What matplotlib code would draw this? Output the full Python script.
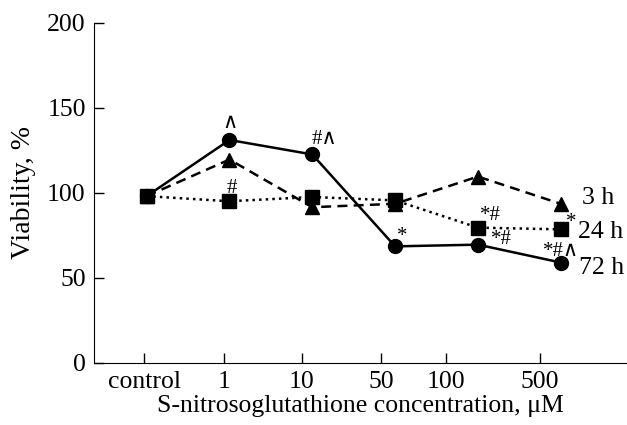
import numpy as np
import matplotlib
matplotlib.use('Agg')
import matplotlib.pyplot as plt

plt.rcParams['font.family'] = ['Liberation Serif', 'DejaVu Serif']

# data
categories = ['control', '1', '10', '50', '100', '500']
v3h = [98, 119.5, 91.5, 93.5, 109.5, 93.5]
v24h = [98, 95, 97.5, 95.5, 79.5, 78.5]
v72h = [98, 131, 122.5, 68.5, 69.5, 59]

# significance marks: (series, index, text)
marks = [
    ('72h', 1, '∧'),
    ('72h', 2, '#∧'),
    ('24h', 1, '#'),
    ('72h', 3, '*'),
    ('24h', 4, '*#'),
    ('72h', 4, '*#'),
    ('72h', 5, '*#∧'),
    ('24h', 5, '*'),
]

series = {'3h': v3h, '24h': v24h, '72h': v72h}
x = np.arange(len(categories))

fig = plt.figure(figsize=(6.27, 4.25), dpi=100)
ax = fig.add_axes([0.150, 0.146, 0.85, 0.801])

ax.plot(x, v3h, '^--', color='black', lw=1.8, ms=10, dashes=(4, 2.5))
ax.plot(x, v24h, 's:', color='black', lw=1.8, ms=10)
ax.plot(x, v72h, 'o-', color='black', lw=1.8, ms=10)

# offsets in points from the point
offs = {
    ('72h', 1): (0, 12), ('72h', 2): (9, 11), ('24h', 1): (2, 9),
    ('72h', 3): (5, 7), ('24h', 4): (9, 9), ('72h', 4): (17, 4),
    ('72h', 5): (0, 8), ('24h', 5): (11.5, 5),
}
for s, i, t in marks:
    ax.annotate(t, (x[i], series[s][i]), xytext=offs[(s, i)], textcoords='offset points',
                ha='right' if (s, i) == ('24h', 5) else 'center', va='center', fontsize=15)

# series labels
ax.annotate('3 h', (x[5], v3h[5]), xytext=(15, 4), textcoords='offset points',
            ha='left', va='center', fontsize=18.5)
ax.annotate('24 h', (x[5], v24h[5]), xytext=(12.5, -2), textcoords='offset points',
            ha='left', va='center', fontsize=18.5)
ax.annotate('72 h', (x[5], v72h[5]), xytext=(13, -4), textcoords='offset points',
            ha='left', va='center', fontsize=18.5)

ax.set_xlim(-0.635, 5.8)
ax.set_ylim(0, 200)
ax.set_xticks([-0.03, 0.93, 1.876, 2.83, 3.61, 4.75])
ax.set_xticklabels(categories)
ax.set_yticks([0, 50, 100, 150, 200])
ax.tick_params(direction='in', length=7, width=1, labelsize=18.5, pad=6)
for sp in ['top', 'right']:
    ax.spines[sp].set_visible(False)
ax.set_xlabel('S-nitrosoglutathione concentration, μM', fontsize=18.5, labelpad=1)
ax.set_ylabel('Viability, %', fontsize=20, labelpad=8)

fig.savefig('out.png', dpi=100)
